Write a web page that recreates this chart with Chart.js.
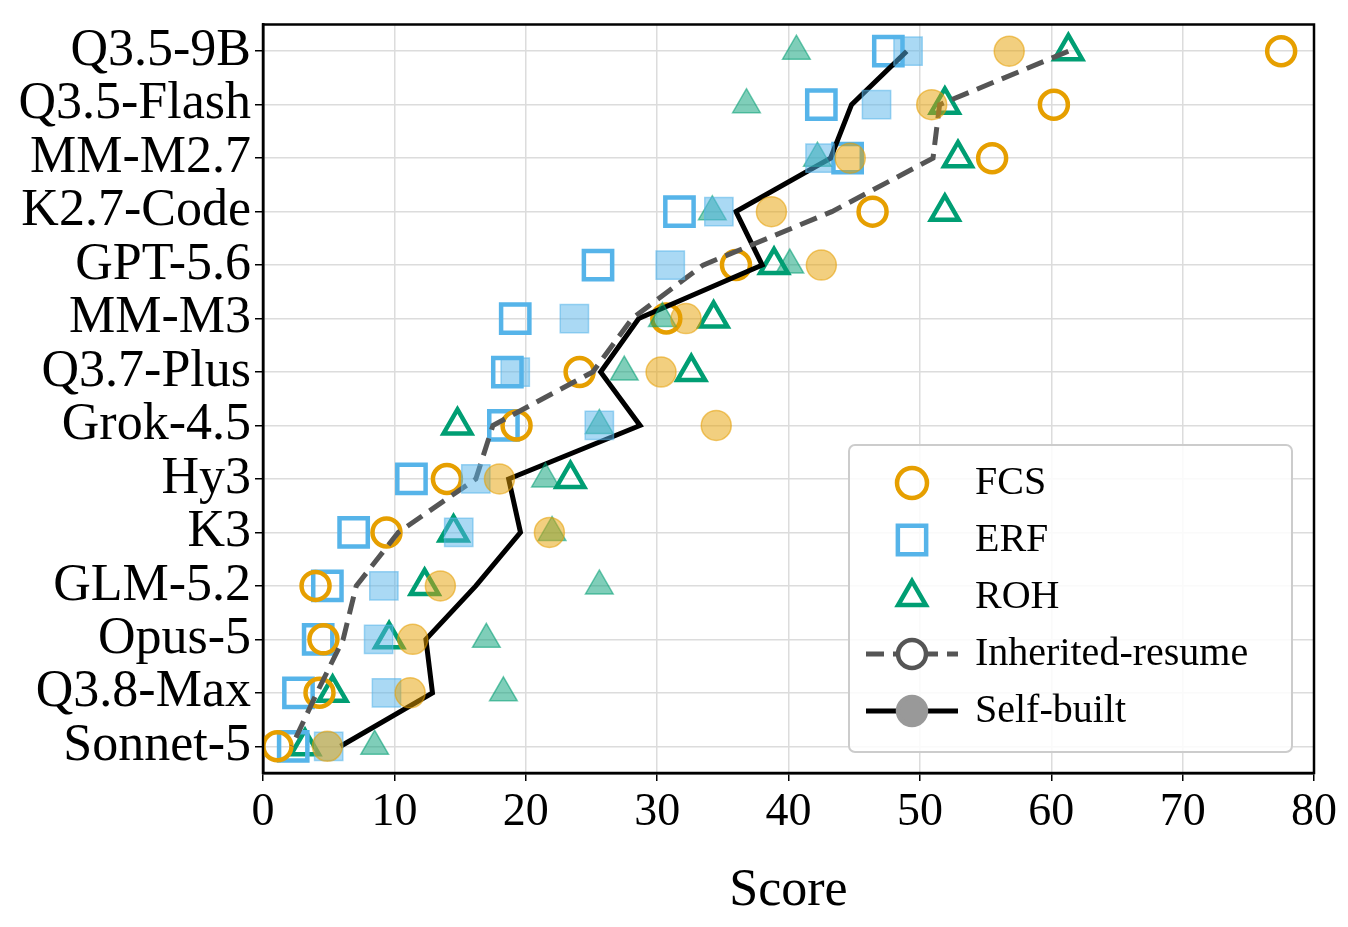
<!DOCTYPE html>
<html>
<head>
<meta charset="utf-8">
<script src="https://cdn.jsdelivr.net/npm/chart.js@4/dist/chart.umd.min.js"></script>
<style>
  body { margin: 0; background: #fff; }
  #wrap { width: 1348px; height: 927px; }
</style>
</head>
<body>
<div id="wrap"><canvas id="c" width="1348" height="927"></canvas></div>
<script>
const models = ['Q3.5-9B', 'Q3.5-Flash', 'MM-M2.7', 'K2.7-Code', 'GPT-5.6', 'MM-M3', 'Q3.7-Plus',
  'Grok-4.5', 'Hy3', 'K3', 'GLM-5.2', 'Opus-5', 'Q3.8-Max', 'Sonnet-5'];

// inherited-resume (hollow)
const fcsInherited = [77.5, 60.2, 55.5, 46.4, 36.0, 30.7, 24.1, 19.3, 14.0, 9.4, 4.0, 4.6, 4.3, 1.1];
const erfInherited = [47.6, 42.5, 44.5, 31.7, 25.5, 19.2, 18.6, 18.3, 11.3, 6.9, 4.9, 4.2, 2.7, 2.3];
const rohInherited = [61.3, 51.9, 52.9, 51.9, 38.9, 34.3, 32.6, 14.8, 23.4, 14.5, 12.3, 9.6, 5.3, 3.2];
// self-built (filled)
const fcsSelf = [56.8, 50.9, 44.7, 38.7, 42.5, 32.2, 30.3, 34.5, 18.0, 21.8, 13.5, 11.4, 11.2, 4.9];
const erfSelf = [49.1, 46.7, 42.4, 34.7, 31.0, 23.7, 19.2, 25.6, 16.2, 14.9, 9.2, 8.8, 9.4, 5.0];
const rohSelf = [40.6, 36.8, 42.2, 34.2, 40.1, 30.4, 27.5, 25.6, 21.5, 22.0, 25.6, 17.0, 18.3, 8.5];
// row averages
const inheritedMean = [61.3, 51.5, 51.0, 43.3, 33.5, 28.1, 25.1, 17.5, 16.2, 10.3, 7.1, 6.1, 4.1, 2.2];
const selfMean = [49.0, 44.8, 43.2, 36.0, 38.0, 28.6, 25.7, 28.7, 18.7, 19.6, 16.2, 12.4, 12.9, 5.9];

const xTicks = [0, 10, 20, 30, 40, 50, 60, 70, 80];

const ORANGE = '#E69F00', BLUE = '#56B4E9', GREEN = '#009E73';
const pts = vals => vals.map((v, i) => ({ x: v, y: models[i] }));
const alpha = (hex, a) => {
  const n = parseInt(hex.slice(1), 16);
  return `rgba(${n >> 16},${(n >> 8) & 255},${n & 255},${a})`;
};

function markers(vals, color, style, filled, radius) {
  return {
    type: 'line', data: pts(vals), showLine: false,
    pointStyle: style, pointRadius: radius, pointHoverRadius: radius,
    pointBackgroundColor: filled ? alpha(color, 0.5) : 'rgba(0,0,0,0)',
    pointBorderColor: filled ? alpha(color, 0.55) : color,
    pointBorderWidth: filled ? 1.5 : 4.5
  };
}
function meanLine(vals, color, dash) {
  return {
    type: 'line', data: pts(vals), borderColor: color, borderWidth: 5,
    borderDash: dash, pointRadius: 0, fill: false, tension: 0
  };
}

const FONT = '"Liberation Serif", "Times New Roman", serif';

const legendPlugin = {
  id: 'boxLegend',
  afterDraw(chart) {
    const ctx = chart.ctx;
    const x0 = 849, y0 = 445, w = 443, h = 307;
    ctx.save();
    ctx.fillStyle = 'rgba(255,255,255,0.85)';
    ctx.strokeStyle = '#ccc';
    ctx.lineWidth = 2;
    ctx.beginPath();
    ctx.roundRect(x0, y0, w, h, 6);
    ctx.fill(); ctx.stroke();
    const rows = [
      { label: 'FCS', color: ORANGE, style: 'circle', r: 15 },
      { label: 'ERF', color: BLUE, style: 'rect', r: 20 },
      { label: 'ROH', color: GREEN, style: 'triangle', r: 16 },
      { label: 'Inherited-resume', line: '#555', dash: [18, 9], hollow: true },
      { label: 'Self-built', line: '#000', dash: [], hollow: false }
    ];
    ctx.font = `40px ${FONT}`;
    ctx.textBaseline = 'middle';
    rows.forEach((r, i) => {
      const cy = y0 + 38 + i * 57;
      const cx = 912;
      if (r.line) {
        ctx.strokeStyle = r.line; ctx.lineWidth = 5; ctx.setLineDash(r.dash);
        ctx.beginPath(); ctx.moveTo(866, cy); ctx.lineTo(958, cy); ctx.stroke();
        ctx.setLineDash([]);
        ctx.fillStyle = r.hollow ? '#fff' : '#999';
        ctx.strokeStyle = r.hollow ? '#555' : '#999';
        ctx.lineWidth = 4.5;
        ctx.beginPath(); ctx.arc(cx, cy, 14, 0, Math.PI * 2); ctx.fill(); ctx.stroke();
      } else {
        ctx.strokeStyle = r.color; ctx.fillStyle = 'rgba(0,0,0,0)'; ctx.lineWidth = 4.5;
        Chart.helpers.drawPoint(ctx, { pointStyle: r.style, radius: r.r, borderWidth: 4.5 }, cx, cy);
      }
      ctx.fillStyle = '#000';
      ctx.fillText(r.label, 975, cy);
    });
    ctx.restore();
  }
};

new Chart(document.getElementById('c'), {
  data: {
    labels: models,
    datasets: [
      markers(fcsSelf, ORANGE, 'circle', true, 15),
      markers(erfSelf, BLUE, 'rect', true, 20),
      markers(rohSelf, GREEN, 'triangle', true, 16),
      meanLine(inheritedMean, '#555', [18, 9]),
      meanLine(selfMean, '#000', []),
      markers(fcsInherited, ORANGE, 'circle', false, 14),
      markers(erfInherited, BLUE, 'rect', false, 20),
      markers(rohInherited, GREEN, 'triangle', false, 16)
    ]
  },
  options: {
    responsive: false,
    animation: false,
    layout: { padding: { top: 10, right: 34, left: 0, bottom: 0 } },
    plugins: { legend: { display: false }, tooltip: { enabled: false } },
    scales: {
      x: {
        type: 'linear', min: 0, max: 80,
        afterBuildTicks: s => { s.ticks = xTicks.map(v => ({ value: v })); },
        afterFit: s => { s.height = 154; s.paddingLeft = 0; s.paddingRight = 0; },
        ticks: { color: '#000', font: { family: FONT, size: 46 }, padding: 4 },
        grid: { color: '#dcdcdc', lineWidth: 1.5, tickLength: 8, tickColor: '#000' },
        border: { color: '#000', width: 2.5 },
        title: { display: true, text: 'Score', color: '#000', font: { family: FONT, size: 52 }, padding: { top: 0 } }
      },
      y: {
        type: 'category', labels: models, offset: true,
        afterFit: s => { s.width = 263; s.paddingTop = 0; s.paddingBottom = 0; },
        ticks: { color: '#000', font: { family: FONT, size: 52 }, padding: 4, autoSkip: false },
        grid: { color: '#dcdcdc', lineWidth: 1.5, tickLength: 8, tickColor: '#000', offset: false },
        border: { color: '#000', width: 2.5 }
      }
    }
  },
  plugins: [legendPlugin, {
    id: 'frame',
    afterDraw(chart) {
      const a = chart.chartArea, ctx = chart.ctx;
      ctx.save(); ctx.strokeStyle = '#000'; ctx.lineWidth = 2.5;
      ctx.strokeRect(a.left, a.top, a.right - a.left, a.bottom - a.top);
      ctx.restore();
    }
  }]
});
</script>
</body>
</html>
